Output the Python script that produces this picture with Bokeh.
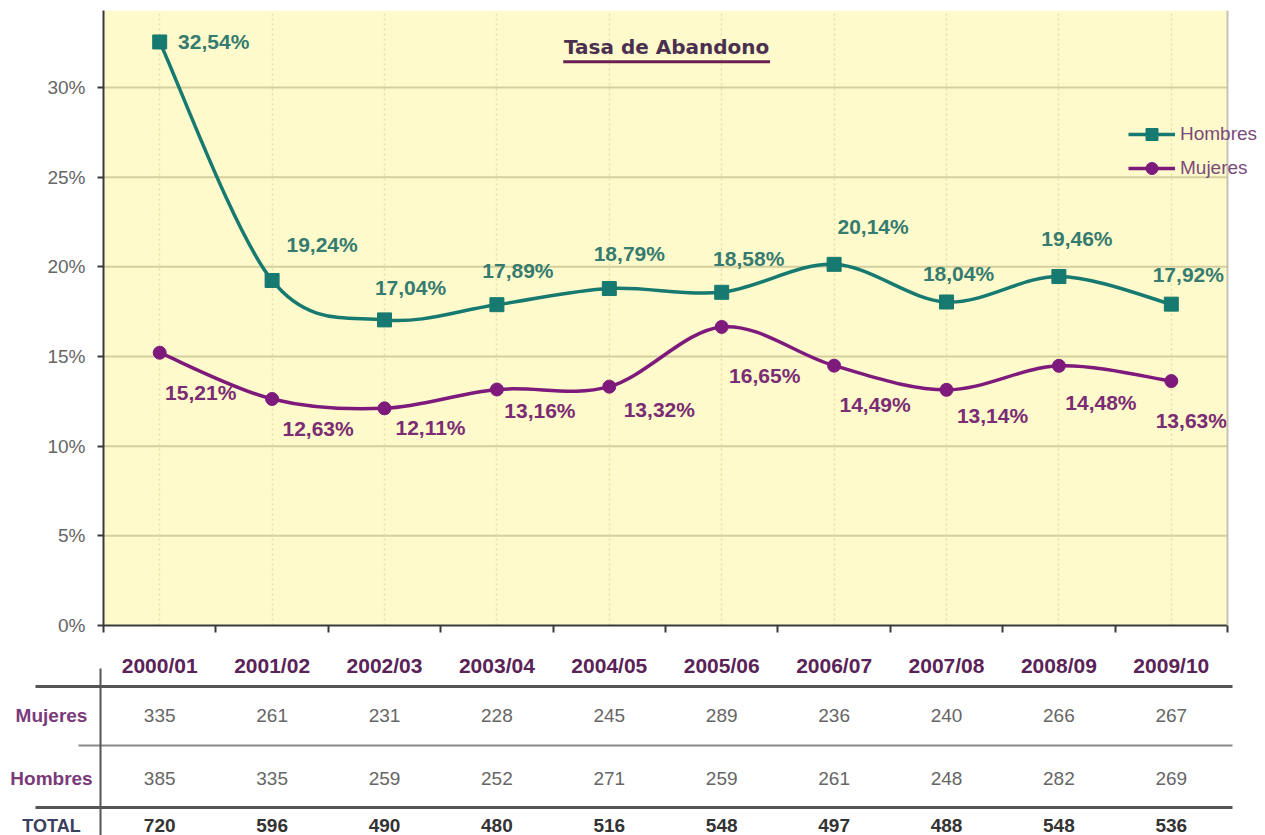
from bokeh.plotting import figure
from bokeh.models import (Range1d, FixedTicker, PrintfTickFormatter, Legend, LegendItem,
                          Label, Span, ColumnDataSource)
from bokeh.embed import file_html
from bokeh.resources import INLINE
from bokeh.core.properties import value

# ---------------- data ----------------
categories = ["2000/01", "2001/02", "2002/03", "2003/04", "2004/05",
              "2005/06", "2006/07", "2007/08", "2008/09", "2009/10"]
hombres_pct = [32.54, 19.24, 17.04, 17.89, 18.79, 18.58, 20.14, 18.04, 19.46, 17.92]
mujeres_pct = [15.21, 12.63, 12.11, 13.16, 13.32, 16.65, 14.49, 13.14, 14.48, 13.63]
mujeres_n = [335, 261, 231, 228, 245, 289, 236, 240, 266, 267]
hombres_n = [385, 335, 259, 252, 271, 259, 261, 248, 282, 269]
total_n = [720, 596, 490, 480, 516, 548, 497, 488, 548, 536]
y_ticks = [0, 5, 10, 15, 20, 25, 30]
row_labels = ["Mujeres", "Hombres", "TOTAL"]
series_names = ["Hombres", "Mujeres"]
title_text = "Tasa de Abandono"

# ---------------- styling / layout ----------------
TEAL = "#177A70"
PURPLE = "#7D1A7B"
TEAL_TXT = "#357B70"
PURPLE_TXT = "#7A2C74"
BG = "#FFFACB"
FONT = "Liberation Sans"

# label offsets in screen pixels (placement only)
h_dx = [54, 50, 26, 21, 20, 27, 39, 12, 18, 17]
h_dy = [0, -36, -32, -34, -35, -34, -38, -28, -38, -30]
m_dx = [41, 46, 46, 43, 50, 43, 41, 46, 42, 20]
m_dy = [40, 29, 19, 21, 23, 49, 39, 26, 37, 39]

W = 1265
PX_PER_CAT = 112.4
FRAME_LEFT = 103
PX_PER_PCT = 17.933

n = len(categories)
xc = [i + 0.5 for i in range(n)]


def pct(v):
    return ("%.2f%%" % v).replace(".", ",")


def smooth(xs, ys):
    d = dict(x0=[], y0=[], x1=[], y1=[], cx0=[], cy0=[], cx1=[], cy1=[])
    m = len(xs)
    for i in range(m - 1):
        pxm, pym = (xs[i - 1], ys[i - 1]) if i > 0 else (xs[i], ys[i])
        pxp, pyp = (xs[i + 2], ys[i + 2]) if i + 2 < m else (xs[i + 1], ys[i + 1])
        d["x0"].append(xs[i]); d["y0"].append(ys[i])
        d["x1"].append(xs[i + 1]); d["y1"].append(ys[i + 1])
        d["cx0"].append(xs[i] + (xs[i + 1] - pxm) / 6.0)
        d["cy0"].append(ys[i] + (ys[i + 1] - pym) / 6.0)
        d["cx1"].append(xs[i + 1] - (pxp - xs[i]) / 6.0)
        d["cy1"].append(ys[i + 1] - (pyp - ys[i]) / 6.0)
    return ColumnDataSource(d)


# ---------------- chart figure ----------------
H1 = 645
frame_h = 615
y_top = frame_h / PX_PER_PCT
x_right = (W - FRAME_LEFT) / PX_PER_CAT
p = figure(width=W, height=H1, output_backend="svg", toolbar_location=None,
           x_range=Range1d(0, x_right), y_range=Range1d(0, y_top),
           min_border_left=FRAME_LEFT, min_border_right=0, min_border_top=10,
           min_border_bottom=H1 - 10 - frame_h)
p.background_fill_color = "white"
p.border_fill_color = "white"
p.outline_line_color = None

# yellow plot area
p.quad(left=[0], right=[n], bottom=[0], top=[y_top], fill_color=BG, line_color=None, level="image")

# horizontal gridlines limited to the plot area
gy = y_ticks[1:]
p.segment(x0=[0] * len(gy), y0=gy, x1=[n] * len(gy), y1=gy,
          line_color="#D3CF9E", line_width=2, level="underlay")
p.ygrid.visible = False

# axes
p.yaxis.ticker = FixedTicker(ticks=y_ticks)
p.yaxis.formatter = PrintfTickFormatter(format="%d%%")
p.yaxis.major_label_text_font = FONT
p.yaxis.major_label_text_font_size = "19px"
p.yaxis.major_label_text_color = "#666666"
p.yaxis.major_tick_out = 6
p.yaxis.major_tick_in = 0
p.yaxis.minor_tick_out = 0
p.yaxis.minor_tick_in = 0
p.yaxis.major_label_standoff = 12
p.yaxis.axis_line_color = "#3A3A3A"
p.yaxis.axis_line_width = 2
p.yaxis.major_tick_line_color = "#3A3A3A"
p.yaxis.major_tick_line_width = 2

p.xaxis.ticker = FixedTicker(ticks=[], minor_ticks=list(range(n + 1)))
p.xaxis.bounds = (0, n)
p.xaxis.major_tick_out = 0
p.xaxis.major_tick_in = 0
p.xaxis.minor_tick_out = 7
p.xaxis.minor_tick_in = 0
p.xaxis.axis_line_color = "#3A3A3A"
p.xaxis.axis_line_width = 2
p.xaxis.minor_tick_line_color = "#3A3A3A"
p.xaxis.minor_tick_line_width = 2

# vertical dotted gridlines at the categories
p.xgrid.ticker = FixedTicker(ticks=xc)
p.xgrid.grid_line_color = "#E6E0A6"
p.xgrid.grid_line_dash = "2 3"
p.xgrid.grid_line_width = 1.5

# right border of plot area
p.add_layout(Span(location=n, dimension="height", line_color="#C6C4B4", line_width=2))

# series
h_bez = p.bezier(x0="x0", y0="y0", x1="x1", y1="y1", cx0="cx0", cy0="cy0",
                 cx1="cx1", cy1="cy1", source=smooth(xc, hombres_pct),
                 line_color=TEAL, line_width=3.5)
m_bez = p.bezier(x0="x0", y0="y0", x1="x1", y1="y1", cx0="cx0", cy0="cy0",
                 cx1="cx1", cy1="cy1", source=smooth(xc, mujeres_pct),
                 line_color=PURPLE, line_width=3.5)
h_sc = p.scatter(xc, hombres_pct, marker="square", size=14, fill_color=TEAL, line_color=TEAL)
m_sc = p.scatter(xc, mujeres_pct, marker="circle", size=13, fill_color=PURPLE, line_color=PURPLE)

# data labels
hs = ColumnDataSource(dict(x=xc, y=hombres_pct, t=[pct(v) for v in hombres_pct], dx=h_dx, dy=h_dy))
ms = ColumnDataSource(dict(x=xc, y=mujeres_pct, t=[pct(v) for v in mujeres_pct], dx=m_dx, dy=m_dy))
p.text(x="x", y="y", text="t", x_offset="dx", y_offset="dy", source=hs,
       text_font=value(FONT), text_font_style="bold", text_font_size="21px",
       text_color=TEAL_TXT, text_align="center", text_baseline="middle")
p.text(x="x", y="y", text="t", x_offset="dx", y_offset="dy", source=ms,
       text_font=value(FONT), text_font_style="bold", text_font_size="21px",
       text_color=PURPLE_TXT, text_align="center", text_baseline="middle")

# title inside the plot area
tx, ty = 5.01, 32.24
p.add_layout(Label(x=tx, y=ty, text=title_text, text_align="center", text_baseline="middle",
                   text_font="DejaVu Sans", text_font_style="bold", text_font_size="20px",
                   text_color="#4A3050"))
p.segment(x0=[tx - 0.92], y0=[ty - 0.8], x1=[tx + 0.92], y1=[ty - 0.8],
          line_color="#6A2050", line_width=3)

# legend
legend = Legend(items=[LegendItem(label=series_names[0], renderers=[h_bez, h_sc]),
                       LegendItem(label=series_names[1], renderers=[m_bez, m_sc])],
                location=(1025, 442))
legend.background_fill_alpha = 0
legend.border_line_alpha = 0
legend.padding = 0
legend.margin = 0
legend.spacing = 4
legend.glyph_width = 47
legend.glyph_height = 30
legend.label_height = 30
legend.label_standoff = 5
legend.label_text_font = FONT
legend.label_text_font_size = "19px"
legend.label_text_color = "#7A4A7A"
p.add_layout(legend)

# ---------------- table figure ----------------
TH = 835 - H1
x_start = (0 - FRAME_LEFT) / PX_PER_CAT
x_end = (W - FRAME_LEFT) / PX_PER_CAT
t = figure(width=W, height=TH, output_backend="svg", toolbar_location=None,
           x_range=Range1d(x_start, x_end), y_range=Range1d(TH, 0),
           x_axis_type=None, y_axis_type=None, min_border=0)
t.min_border_left = t.min_border_right = t.min_border_top = t.min_border_bottom = 0
t.outline_line_color = None
t.xgrid.visible = False
t.ygrid.visible = False
t.background_fill_color = "white"
t.border_fill_color = "white"

Y_HEAD, Y_VTOP, Y_L1, Y_M, Y_L2, Y_H, Y_L3, Y_T = 20, 23, 41, 70, 100, 133, 162, 180
left_long = (35 - FRAME_LEFT) / PX_PER_CAT
left_short = (78 - FRAME_LEFT) / PX_PER_CAT
right_end = (1232 - FRAME_LEFT) / PX_PER_CAT
vline_x = (100 - FRAME_LEFT) / PX_PER_CAT
lab_x = (51 - FRAME_LEFT) / PX_PER_CAT

t.segment(x0=[left_long, left_long], y0=[Y_L1, Y_L3], x1=[right_end, right_end], y1=[Y_L1, Y_L3],
          line_color="#555555", line_width=3)
t.segment(x0=[left_short], y0=[Y_L2], x1=[right_end], y1=[Y_L2], line_color="#8A8A8A", line_width=2)
t.segment(x0=[vline_x], y0=[Y_VTOP], x1=[vline_x], y1=[TH], line_color="#555555", line_width=2)

t.text(x=xc, y=[Y_HEAD] * n, text=categories, text_font=value(FONT), text_font_style="bold",
       text_font_size="21px", text_color="#5A2358", text_align="center", text_baseline="middle")
t.text(x=xc, y=[Y_M] * n, text=[str(v) for v in mujeres_n], text_font=value(FONT),
       text_font_size="19px", text_color="#666666", text_align="center", text_baseline="middle")
t.text(x=xc, y=[Y_H] * n, text=[str(v) for v in hombres_n], text_font=value(FONT),
       text_font_size="19px", text_color="#666666", text_align="center", text_baseline="middle")
t.text(x=xc, y=[Y_T] * n, text=[str(v) for v in total_n], text_font=value(FONT),
       text_font_style="bold", text_font_size="19px", text_color="#333333",
       text_align="center", text_baseline="middle")
t.text(x=[lab_x] * 2, y=[Y_M, Y_H], text=row_labels[:2], text_font=value(FONT),
       text_font_style="bold", text_font_size="19px", text_color="#7A3A7A",
       text_align="center", text_baseline="middle")
t.text(x=[lab_x], y=[Y_T], text=row_labels[2:], text_font=value(FONT),
       text_font_style="bold", text_font_size="18px", text_color="#3A4060",
       text_align="center", text_baseline="middle")

open("out.html", "w").write(file_html([p, t], INLINE))
